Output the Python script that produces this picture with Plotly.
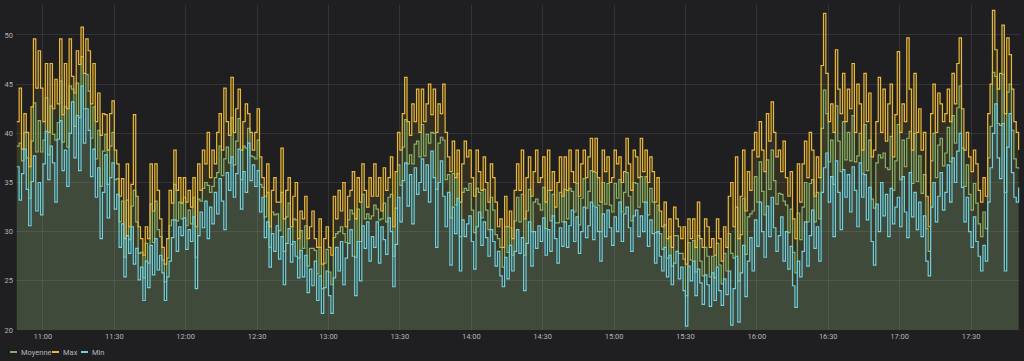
import pandas as pd
import plotly.graph_objects as go

# Données : une valeur par minute à partir de 10:49
start_time = "2020-01-01 10:49"

min_vals = [
    36.6, 33.2, 35.9, 38.4, 34.3, 30.6, 35.1, 37.7, 32.1, 35.0,
    31.7, 36.9, 40.2, 35.3, 38.7, 37.0, 33.0, 39.4, 41.3, 36.2,
    38.3, 34.6, 40.0, 43.2, 37.5, 41.8, 36.2, 44.8, 39.0, 42.5,
    40.3, 35.6, 38.4, 33.5, 36.5, 29.3, 34.0, 37.8, 31.4, 35.5,
    37.0, 32.3, 33.8, 28.4, 30.8, 25.4, 29.6, 27.8, 30.5, 26.7,
    28.3, 25.1, 26.4, 23.0, 27.0, 24.3, 28.6, 25.6, 29.3, 26.1,
    27.6, 25.8, 23.0, 25.4, 27.0, 29.4, 31.2, 28.0, 30.5, 29.6,
    31.4, 28.2, 30.2, 29.0, 31.5, 24.2, 29.6, 32.0, 30.4, 33.1,
    29.3, 32.5, 30.8, 34.0, 31.8, 35.4, 33.1, 30.2, 36.0, 34.2,
    37.6, 33.5, 35.9, 38.4, 32.3, 36.1, 34.0, 39.0, 35.2, 36.8,
    34.6, 36.2, 32.0, 33.5, 29.4, 31.0, 26.4, 29.8, 28.0, 30.6,
    27.2, 29.5, 24.6, 28.8, 30.3, 26.9, 29.0, 27.5, 25.3, 28.1,
    25.4, 27.6, 23.8, 26.2, 24.5, 27.0, 23.0, 25.5, 21.7, 24.3,
    26.0, 23.5, 21.7, 25.3, 28.4, 26.0, 29.0, 24.6, 27.3, 28.8,
    30.2, 27.5, 23.5, 29.0, 25.0, 30.6, 28.3, 31.0, 27.0, 29.5,
    28.4, 31.0, 26.8, 30.5, 29.2, 27.7, 31.4, 30.0, 24.4, 28.7,
    33.5, 31.0, 35.2, 37.0, 32.6, 35.8, 30.8, 36.5, 33.8, 35.0,
    37.4, 34.2, 36.8, 33.0, 38.2, 35.5, 28.4, 35.0, 37.2, 33.6,
    30.5, 34.0, 26.6, 32.5, 29.8, 33.4, 26.0, 31.2, 29.5, 30.8,
    31.6, 29.0, 26.2, 30.5, 32.0, 28.6, 31.0, 29.4, 27.5, 30.2,
    29.0, 26.5, 28.0, 25.5, 24.4, 27.4, 25.2, 28.6, 26.0, 28.0,
    30.2, 27.8, 29.4, 24.0, 28.8, 31.0, 26.5, 30.0, 28.3, 30.6,
    29.0, 31.4, 27.6, 30.2, 28.0, 31.6, 29.3, 26.8, 30.4, 28.5,
    31.0, 28.4, 30.6, 32.2, 29.0, 31.5, 27.8, 30.0, 32.5, 29.4,
    30.6, 33.0, 29.2, 32.5, 30.0, 27.0, 31.8, 29.5, 32.2, 30.4,
    28.6, 31.5, 30.0, 33.0, 29.0, 31.8, 32.5, 30.4, 28.0, 31.6,
    32.2, 29.5, 31.6, 30.0, 33.0, 28.5, 31.2, 29.8, 26.8, 30.0,
    27.5, 26.0, 28.4, 25.4, 27.6, 24.6, 26.8, 28.0, 25.2, 26.4,
    24.0, 20.4, 26.5, 25.0, 27.0, 23.5, 26.2, 24.8, 22.6, 25.6,
    24.6, 22.4, 25.8, 23.0, 26.4, 24.0, 22.5, 25.2, 23.6, 26.0,
    20.5, 24.2, 27.5, 20.8, 25.8, 28.6, 23.4, 27.0, 29.4, 26.0,
    31.2, 28.5, 33.0, 30.0, 27.4, 32.6, 29.5, 33.5, 30.4, 28.0,
    29.6, 31.5, 27.0, 30.0, 26.2, 28.5, 24.5, 22.3, 27.0, 25.4,
    28.0, 31.0, 26.5, 29.6, 32.2, 28.3, 30.5, 27.0, 34.0, 36.5,
    38.0, 33.0, 35.6, 29.5, 37.2, 34.0, 30.2, 36.3, 33.5, 35.8,
    32.0, 36.6, 34.2, 30.5, 37.0, 33.5, 35.8, 31.2, 34.5, 29.0,
    26.6, 32.8, 30.0, 35.0, 31.6, 33.8, 29.5, 34.4, 30.8, 32.5,
    33.5, 30.5, 35.6, 32.0, 29.4, 36.0, 31.5, 34.0, 30.2, 33.0,
    29.5, 31.6, 27.0, 25.5, 32.5, 35.0, 31.0, 33.6, 36.0, 32.2,
    34.0, 36.8, 33.0, 37.5, 35.0, 38.2, 40.0, 34.5, 31.0, 33.5,
    30.0, 28.4, 31.5, 29.0, 27.5, 26.0, 28.6, 27.0, 33.0, 36.5,
    40.0, 43.0, 37.5, 35.4, 41.0, 26.0, 38.6, 42.0, 36.0, 33.5,
    33.0, 34.5,
]

max_vals = [
    41.2, 44.6, 38.4, 42.0, 40.1, 36.6, 42.7, 49.6, 44.6, 48.4,
    44.6, 41.2, 47.1, 40.1, 47.1, 42.5, 45.5, 43.0, 49.6, 41.9,
    47.1, 42.5, 49.6, 45.8, 44.1, 48.4, 47.0, 50.8, 46.1, 49.6,
    48.4, 43.0, 47.1, 41.2, 44.1, 39.8, 42.0, 41.9, 38.3, 42.0,
    43.3, 38.3, 36.9, 33.6, 35.4, 29.3, 36.9, 30.5, 34.8, 41.9,
    33.6, 30.5, 29.3, 27.6, 30.5, 29.3, 36.9, 32.1, 36.9, 34.2,
    31.3, 28.4, 26.7, 29.3, 34.2, 32.9, 38.3, 34.2, 35.5, 32.9,
    35.5, 33.0, 34.2, 32.5, 35.5, 30.5, 36.9, 34.2, 38.3, 36.9,
    40.1, 35.5, 38.3, 36.9, 40.1, 42.0, 38.3, 44.6, 41.2, 39.8,
    45.7, 40.1, 42.5, 44.5, 38.3, 41.2, 43.0, 42.0, 40.1, 38.3,
    40.1, 42.5, 37.6, 35.5, 33.6, 36.9, 30.5, 34.2, 35.5, 33.0,
    33.0, 38.5, 31.3, 34.2, 35.5, 30.5, 33.6, 35.0, 29.3, 32.1,
    31.3, 33.6, 29.3, 30.5, 32.1, 29.3, 28.4, 31.3, 26.7, 29.3,
    30.5, 28.4, 27.6, 33.6, 31.3, 34.2, 32.1, 35.0, 30.5, 33.6,
    34.2, 36.1, 31.3, 35.5, 33.0, 36.9, 34.2, 32.5, 35.5, 33.6,
    36.9, 33.6, 35.5, 32.1, 36.5, 34.2, 35.5, 37.6, 30.5, 36.1,
    40.1, 38.3, 42.0, 45.7, 41.2, 39.8, 43.0, 41.2, 44.5, 40.1,
    44.5, 41.2, 43.0, 45.0, 41.9, 44.5, 40.1, 43.0, 42.0, 45.0,
    40.1, 37.6, 36.1, 39.2, 35.5, 38.3, 33.0, 36.9, 39.2, 37.6,
    38.3, 35.5, 33.6, 38.3, 36.1, 34.2, 37.6, 35.0, 33.0, 36.9,
    35.5, 33.0, 30.5, 31.3, 28.4, 33.6, 30.5, 32.1, 29.3, 34.2,
    36.9, 34.2, 38.3, 31.3, 35.5, 37.6, 33.6, 36.1, 38.3, 35.0,
    35.5, 37.6, 33.0, 38.3, 34.2, 36.1, 32.5, 35.0, 37.6, 33.6,
    37.6, 34.2, 38.3, 36.1, 35.0, 38.3, 33.6, 36.9, 38.3, 35.5,
    37.6, 39.5, 36.1, 39.5, 35.5, 33.0, 38.3, 36.1, 37.6, 35.0,
    35.5, 38.3, 36.9, 37.6, 35.0, 36.1, 39.5, 36.9, 34.2, 38.3,
    37.6, 35.5, 39.5, 36.1, 38.3, 35.0, 37.6, 36.1, 33.0, 35.5,
    32.1, 30.5, 33.0, 29.3, 31.3, 28.4, 32.5, 31.3, 30.5, 29.3,
    30.5, 26.7, 31.3, 29.3, 31.3, 28.4, 33.0, 29.3, 28.4, 31.3,
    30.5, 28.4, 29.3, 27.6, 31.3, 29.3, 27.0, 30.5, 28.4, 33.6,
    35.0, 30.5, 37.6, 29.3, 33.6, 38.3, 32.1, 36.1, 34.2, 38.3,
    40.1, 37.6, 41.2, 38.3, 36.1, 42.0, 39.2, 43.2, 40.1, 37.6,
    38.3, 36.1, 39.2, 35.5, 33.6, 36.1, 31.3, 29.3, 36.9, 33.0,
    36.9, 39.2, 35.5, 40.1, 38.3, 33.6, 37.6, 35.5, 46.9, 52.2,
    46.1, 41.2, 43.0, 40.1, 48.5, 44.5, 42.0, 46.1, 41.2, 44.5,
    42.5, 47.1, 40.1, 45.0, 43.0, 38.3, 46.1, 41.2, 44.1, 37.6,
    38.3, 41.2, 45.7, 40.1, 44.5, 39.2, 43.0, 45.0, 37.6, 41.9,
    48.3, 40.1, 43.0, 41.2, 49.7, 44.5, 38.3, 46.1, 40.1, 42.5,
    38.3, 40.1, 33.6, 30.5, 42.0, 45.0, 40.1, 44.1, 43.0, 41.2,
    42.0, 44.5, 41.2, 46.1, 43.0, 47.1, 49.7, 42.5, 38.3, 40.1,
    37.6, 36.1, 38.3, 36.9, 34.2, 33.0, 35.5, 33.6, 42.0, 45.0,
    52.5, 48.5, 44.5, 46.1, 51.0, 42.0, 49.7, 48.0, 44.5, 41.2,
    40.1, 38.3,
]

mean_vals = [
    38.7, 39.0, 37.2, 40.1, 37.5, 33.4, 39.2, 43.1, 38.1, 41.3,
    38.1, 39.3, 43.6, 37.8, 42.8, 39.9, 39.3, 41.1, 45.3, 39.1,
    42.7, 38.6, 44.8, 44.5, 40.7, 45.1, 41.6, 47.8, 42.5, 46.0,
    44.3, 39.5, 42.7, 37.4, 40.3, 34.6, 38.2, 39.9, 34.8, 38.7,
    40.1, 35.3, 35.4, 31.0, 33.1, 27.4, 33.2, 29.2, 32.6, 34.2,
    31.0, 27.8, 27.9, 25.3, 28.8, 26.8, 32.8, 28.9, 33.1, 30.2,
    29.5, 27.1, 24.9, 27.3, 30.6, 31.2, 34.8, 31.1, 33.0, 31.3,
    33.5, 30.6, 32.2, 30.8, 33.5, 27.4, 33.3, 33.1, 34.4, 35.0,
    34.7, 34.0, 34.6, 35.5, 36.0, 38.7, 35.7, 37.4, 38.6, 37.0,
    41.6, 36.8, 39.2, 41.5, 35.3, 38.7, 38.5, 40.5, 37.7, 37.6,
    37.4, 39.3, 34.8, 34.5, 31.5, 34.0, 28.4, 32.0, 31.7, 31.8,
    30.1, 34.0, 28.0, 31.5, 32.9, 28.7, 31.3, 31.2, 27.3, 30.1,
    28.3, 30.6, 26.5, 28.3, 28.3, 28.1, 25.7, 28.4, 24.2, 26.8,
    28.2, 25.9, 24.6, 29.4, 29.8, 30.0, 30.5, 29.8, 28.9, 31.2,
    32.2, 31.8, 27.4, 32.3, 29.0, 33.8, 31.3, 31.8, 31.3, 31.6,
    32.7, 32.3, 31.2, 31.3, 32.9, 31.0, 33.5, 33.8, 27.5, 32.4,
    36.8, 34.7, 38.6, 41.4, 36.9, 37.8, 36.9, 38.9, 39.2, 37.6,
    40.9, 37.7, 39.9, 39.0, 40.1, 40.0, 34.3, 39.0, 39.6, 39.3,
    35.3, 35.8, 31.4, 35.9, 32.7, 35.9, 29.5, 34.0, 34.4, 34.2,
    34.9, 32.2, 29.9, 34.4, 34.0, 31.4, 34.3, 32.2, 30.2, 33.5,
    32.2, 29.7, 29.3, 28.4, 26.4, 30.5, 27.9, 30.4, 27.6, 31.1,
    33.5, 31.0, 33.8, 27.6, 32.1, 34.3, 30.0, 33.0, 33.3, 32.8,
    32.2, 34.5, 30.3, 34.2, 31.1, 33.8, 30.9, 30.9, 34.0, 31.0,
    34.3, 31.3, 34.4, 34.1, 32.0, 34.9, 30.7, 33.4, 35.4, 32.4,
    34.1, 36.2, 32.6, 36.0, 32.7, 30.0, 35.0, 32.8, 34.9, 32.7,
    32.0, 34.9, 33.4, 35.3, 32.0, 34.0, 36.0, 33.6, 31.1, 35.0,
    34.9, 32.5, 35.6, 33.0, 35.6, 31.7, 34.4, 33.0, 29.9, 32.7,
    29.8, 28.2, 30.7, 27.3, 29.5, 26.5, 29.6, 29.6, 27.8, 27.8,
    27.2, 23.5, 28.9, 27.1, 29.1, 25.9, 29.6, 27.0, 25.5, 28.4,
    27.5, 25.4, 27.5, 25.3, 28.8, 26.6, 24.7, 27.8, 26.0, 29.8,
    27.8, 27.3, 32.5, 25.0, 29.7, 33.4, 27.7, 31.5, 31.8, 32.1,
    35.6, 33.0, 37.1, 34.1, 31.7, 37.3, 34.3, 38.3, 35.2, 32.8,
    33.9, 33.8, 33.1, 32.7, 29.9, 32.3, 27.9, 25.8, 31.9, 29.2,
    32.5, 35.0, 31.0, 34.9, 35.3, 31.0, 34.0, 31.3, 40.5, 44.4,
    42.0, 37.1, 39.3, 34.8, 42.8, 39.2, 36.1, 41.2, 37.3, 40.1,
    37.2, 41.8, 37.1, 37.7, 40.0, 35.9, 40.9, 36.2, 39.3, 33.3,
    32.4, 37.0, 37.8, 37.5, 38.0, 36.5, 36.3, 39.7, 34.2, 37.2,
    40.9, 35.3, 39.3, 36.6, 39.5, 40.2, 34.9, 40.0, 35.1, 37.7,
    33.9, 35.8, 30.3, 28.0, 37.2, 40.0, 35.5, 38.8, 39.5, 36.7,
    38.0, 40.6, 37.1, 41.8, 39.0, 42.6, 44.8, 38.5, 34.6, 36.8,
    33.8, 32.2, 34.9, 32.9, 30.8, 29.5, 32.0, 30.3, 37.5, 40.7,
    46.2, 45.8, 41.0, 40.8, 46.0, 34.0, 44.2, 45.0, 40.3, 37.4,
    36.5, 36.4,
]

series_names = ["Moyenne", "Max", "Min"]
series_colors = ["#7EB26D", "#EAB839", "#6ED0E0"]
series_fills = ["rgba(126,178,109,0.10)", "rgba(234,184,57,0.10)", "rgba(110,208,224,0.10)"]

x_tick_labels = ["11:00", "11:30", "12:00", "12:30", "13:00", "13:30", "14:00",
                 "14:30", "15:00", "15:30", "16:00", "16:30", "17:00", "17:30"]
y_ticks = [20, 25, 30, 35, 40, 45, 50]

times = pd.date_range(start_time, periods=len(min_vals), freq="min")
tick_times = [pd.Timestamp("2020-01-01 " + t) for t in x_tick_labels]

BG = "#1f1f21"
TXT = "#b4b4b4"
FONT = "Roboto"

fig = go.Figure()
for name, vals, col, fcol in zip(series_names, [mean_vals, max_vals, min_vals],
                                 series_colors, series_fills):
    fig.add_trace(go.Scatter(
        x=times, y=vals, name=name, mode="lines",
        line=dict(color=col, width=1.2, shape="hv"),
        fill="tozeroy", fillcolor=fcol,
        showlegend=False, hoverinfo="skip",
    ))

fig.update_layout(
    width=1024, height=361,
    margin=dict(l=16, r=4, t=5, b=31),
    paper_bgcolor=BG, plot_bgcolor=BG,
    font=dict(family=FONT, size=7.5, color=TXT),
    xaxis=dict(
        type="date",
        range=["2020-01-01 10:48:41", "2020-01-01 17:50:35"],
        tickvals=tick_times, ticktext=x_tick_labels,
        showgrid=True, gridcolor="rgba(255,255,255,0.09)", gridwidth=1,
        zeroline=False, showline=False, ticks="",
        tickfont=dict(size=7.5, color=TXT, family=FONT),
    ),
    yaxis=dict(
        range=[20, 53.05],
        tickvals=y_ticks,
        showgrid=True, gridcolor="rgba(255,255,255,0.09)", gridwidth=1,
        zeroline=False, showline=False, ticks="",
        tickfont=dict(size=7.5, color=TXT, family=FONT),
        ticklabelstandoff=2,
    ),
)

# Légende (style Grafana, en bas à gauche)
plot_w = 1024 - 16 - 4
plot_h = 361 - 5 - 31
def px(xpix):
    return (xpix - 16) / plot_w
def py(ypix):
    return (361 - 31 - ypix) / plot_h

legend_x = [10, 52, 81]
for name, col, lx in zip(series_names, series_colors, legend_x):
    fig.add_shape(type="rect", xref="paper", yref="paper",
                  x0=px(lx), x1=px(lx + 7), y0=py(353), y1=py(351),
                  line=dict(width=0), fillcolor=col)
    fig.add_annotation(text=name, xref="paper", yref="paper",
                       x=px(lx + 9), y=py(352), xanchor="left", yanchor="middle",
                       showarrow=False, font=dict(size=7.5, color=TXT, family=FONT))

fig.write_html("out.html", config={"displayModeBar": False},
               post_script="document.body.style.margin='0';document.body.style.overflow='hidden';")
